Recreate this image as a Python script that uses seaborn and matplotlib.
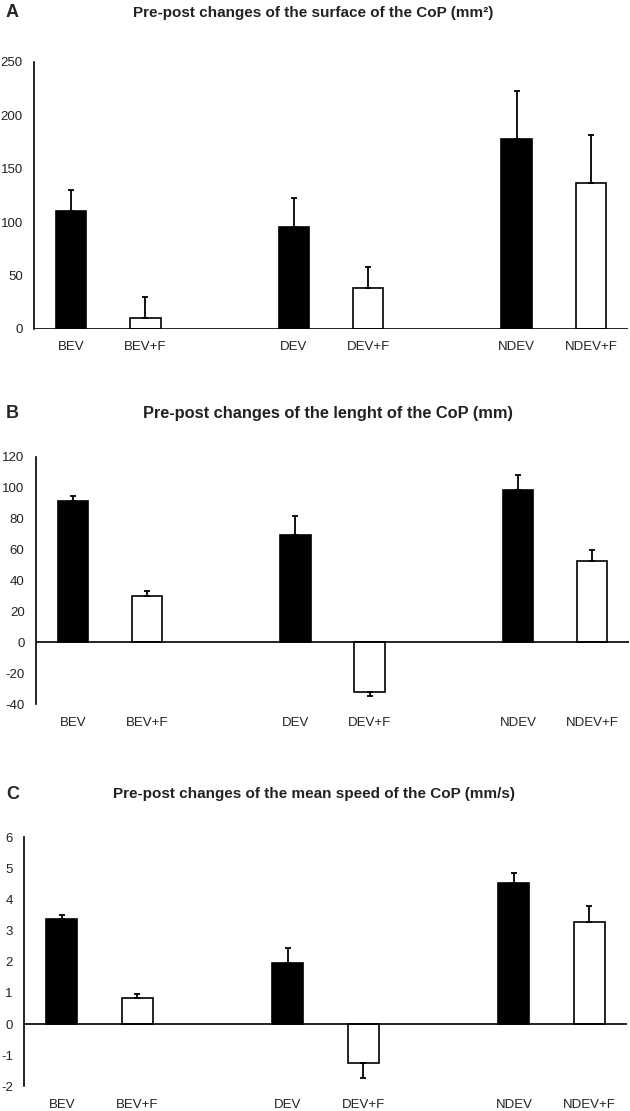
import numpy as np
import pandas as pd
import seaborn as sns
import matplotlib.pyplot as plt

# categorias (los huecos son posiciones vacias del eje)
categorias = ["BEV", "BEV+F", "", "DEV", "DEV+F", " ", "NDEV", "NDEV+F"]
grupo = ["pre", "post", "pre", "pre", "post", "pre", "pre", "post"]

# A: superficie del CoP (mm2)
superficie = [110, 10, np.nan, 95, 38, np.nan, 178, 137]
superficie_err = [20, 20, np.nan, 28, 20, np.nan, 45, 45]

# B: longitud del CoP (mm)
longitud = [91.3, 30, np.nan, 69.5, -32.2, np.nan, 98.4, 52.9]
longitud_err = [3.2, 3.2, np.nan, 12, 2.8, np.nan, 10, 6.7]

# C: velocidad media del CoP (mm/s)
velocidad = [3.39, 0.84, np.nan, 1.95, -1.24, np.nan, 4.53, 3.28]
velocidad_err = [0.12, 0.12, np.nan, 0.5, 0.5, np.nan, 0.33, 0.5]

sns.set_theme(style="white")
plt.rcParams['font.family'] = ['Liberation Sans', 'DejaVu Sans']
plt.rcParams['axes.unicode_minus'] = False

fig = plt.figure(figsize=(6.3, 11.11), dpi=100)

paneles = [
    ("A", "Pre-post changes of the surface of the CoP (mm²)", superficie, superficie_err,
     (0, 250), np.arange(0, 251, 50), [0.054, 0.7041, 0.9429, 0.2401], 0.9887, 0.4968, 11),
    ("B", "Pre-post changes of the lenght of the CoP (mm)", longitud, longitud_err,
     (-40, 120), np.arange(-40, 121, 20), [0.0567, 0.3663, 0.9423, 0.2225], 0.6274, 0.5206, 11.8),
    ("C", "Pre-post changes of the mean speed of the CoP (mm/s)", velocidad, velocidad_err,
     (-2, 6), np.arange(-2, 7, 1), [0.0381, 0.0221, 0.9571, 0.2243], 0.2853, 0.4984, 11),
]

for letra, titulo, valores, errores, ylim, yticks, rect, ytit, xtit, ftit in paneles:
    ax = fig.add_axes(rect)
    df = pd.DataFrame({"Categoria": categorias, "Valor": valores, "Grupo": grupo})
    sns.barplot(data=df, x="Categoria", y="Valor", hue="Grupo", order=categorias,
                hue_order=["pre", "post"], palette={"pre": "black", "post": "white"},
                dodge=False, width=0.41, edgecolor="black", linewidth=1.2,
                legend=False, ax=ax)
    for i, (v, e) in enumerate(zip(valores, errores)):
        if np.isnan(v):
            continue
        yerr = [[0], [e]] if v > 0 else [[e], [0]]
        ax.errorbar(i, v, yerr=yerr, fmt="none", ecolor="black", elinewidth=1.3,
                    capsize=2, capthick=1.3, zorder=3)
    ax.axhline(0, color="black", linewidth=1.2, zorder=4)
    ax.set_xlim(-0.5, 7.5)
    ax.set_ylim(*ylim)
    ax.set_yticks(yticks)
    ax.set_xlabel("")
    ax.set_ylabel("")
    for lado in ["top", "right", "bottom"]:
        ax.spines[lado].set_visible(False)
    ax.spines["left"].set_color("black")
    ax.spines["left"].set_linewidth(1.2)
    ax.tick_params(axis="both", length=0, labelsize=9.5, colors="#222222")
    ax.tick_params(axis="y", pad=8)
    ax.tick_params(axis="x", pad=9)
    fig.text(0.0095, ytit, letra, fontsize=13, fontweight="bold", va="center", ha="left")
    fig.text(xtit, ytit, titulo, fontsize=ftit, fontweight="bold", va="center", ha="center",
             color="#222222")

fig.savefig("out.png", dpi=100)
